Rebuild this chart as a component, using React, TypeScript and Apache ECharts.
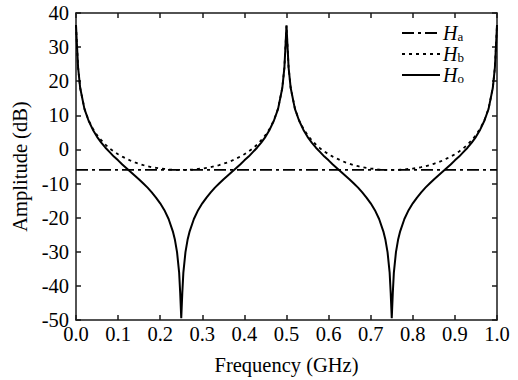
import React, { useEffect, useRef } from "react";
import * as echarts from "echarts";

const freq = [
  0, 0.0025, 0.005, 0.01, 0.02, 0.03, 0.04, 0.05, 0.06, 0.07, 0.08, 0.09, 0.1, 0.11, 0.12, 0.13, 0.14, 0.15, 0.16, 0.17, 0.18, 0.19, 0.2, 0.21, 0.22, 0.23,
  0.235, 0.24, 0.245, 0.2475, 0.25, 0.2525, 0.255, 0.26, 0.265,
  0.27, 0.28, 0.29, 0.3, 0.31, 0.32, 0.33, 0.34, 0.35, 0.36, 0.37, 0.38, 0.39, 0.4, 0.41, 0.42, 0.43, 0.44, 0.45, 0.46, 0.47, 0.48, 0.49, 0.495, 0.4975,
  0.5, 0.5025, 0.505, 0.51, 0.52, 0.53, 0.54, 0.55, 0.56, 0.57, 0.58, 0.59, 0.6, 0.61, 0.62, 0.63, 0.64, 0.65, 0.66, 0.67, 0.68, 0.69, 0.7, 0.71, 0.72, 0.73,
  0.735, 0.74, 0.745, 0.7475, 0.75, 0.7525, 0.755, 0.76, 0.765,
  0.77, 0.78, 0.79, 0.8, 0.81, 0.82, 0.83, 0.84, 0.85, 0.86, 0.87, 0.88, 0.89, 0.9, 0.91, 0.92, 0.93, 0.94, 0.95, 0.96, 0.97, 0.98, 0.99, 0.995, 0.9975,
  1.0,
];

const hoValues = [
  36.5, 30.1, 24.0, 18.0, 11.9, 8.4, 5.8, 3.7, 2.0, 0.5, -0.8, -2.1, -3.2, -4.4, -5.5, -6.6, -7.7, -8.8, -10.0, -11.2, -12.6, -14.1, -15.8, -17.8, -20.4, -24.0,
  -26.5, -30.1, -36.1, -42.1, -49.5, -42.1, -36.1, -30.1, -26.5,
  -24.0, -20.4, -17.8, -15.8, -14.1, -12.6, -11.2, -10.0, -8.8, -7.7, -6.6, -5.5, -4.4, -3.2, -2.1, -0.8, 0.5, 2.0, 3.7, 5.8, 8.4, 11.9, 18.0, 24.0, 30.1,
  36.3, 30.1, 24.0, 18.0, 11.9, 8.4, 5.8, 3.7, 2.0, 0.5, -0.8, -2.1, -3.2, -4.4, -5.5, -6.6, -7.7, -8.8, -10.0, -11.2, -12.6, -14.1, -15.8, -17.8, -20.4, -24.0,
  -26.5, -30.1, -36.1, -42.1, -49.5, -42.1, -36.1, -30.1, -26.5,
  -24.0, -20.4, -17.8, -15.8, -14.1, -12.6, -11.2, -10.0, -8.8, -7.7, -6.6, -5.5, -4.4, -3.2, -2.1, -0.8, 0.5, 2.0, 3.7, 5.8, 8.4, 11.9, 18.0, 24.0, 30.1,
  36.5,
];

const hbValues = [
  36.5, 30.1, 24.0, 18.0, 12.0, 8.5, 6.1, 4.2, 2.7, 1.4, 0.3, -0.6, -1.4, -2.1, -2.7, -3.3, -3.8, -4.2, -4.6, -4.9, -5.2, -5.4, -5.6, -5.7, -5.9, -5.95,
  -6.0, -6.0, -6.0, -6.0, -6.0, -6.0, -6.0, -6.0, -6.0,
  -5.95, -5.9, -5.7, -5.6, -5.4, -5.2, -4.9, -4.6, -4.2, -3.8, -3.3, -2.7, -2.1, -1.4, -0.6, 0.3, 1.4, 2.7, 4.2, 6.1, 8.5, 12.0, 18.0, 24.0, 30.1,
  36.3, 30.1, 24.0, 18.0, 12.0, 8.5, 6.1, 4.2, 2.7, 1.4, 0.3, -0.6, -1.4, -2.1, -2.7, -3.3, -3.8, -4.2, -4.6, -4.9, -5.2, -5.4, -5.6, -5.7, -5.9, -5.95,
  -6.0, -6.0, -6.0, -6.0, -6.0, -6.0, -6.0, -6.0, -6.0,
  -5.95, -5.9, -5.7, -5.6, -5.4, -5.2, -4.9, -4.6, -4.2, -3.8, -3.3, -2.7, -2.1, -1.4, -0.6, 0.3, 1.4, 2.7, 4.2, 6.1, 8.5, 12.0, 18.0, 24.0, 30.1,
  36.5,
];

const haFreq = [0, 1.0];
const haValues = [-6.0, -6.0];

const legendSubs = ["a", "b", "o"];

const FONT = "'Liberation Serif', 'Times New Roman', serif";
const DASH_HA = [12, 4, 3, 4];
const DASH_HB = [3, 4];

export default function App() {
  const ref = useRef<HTMLDivElement>(null);

  useEffect(() => {
    document.body.style.margin = "0";
    if (!ref.current) return;
    const chart = echarts.init(ref.current, null, { renderer: "svg" });

    const pair = (xs: number[], ys: number[]) => xs.map((x, i) => [x, ys[i]]);
    const axisLine = { show: true, onZero: false, lineStyle: { color: "#1a1a1a", width: 1.5 } };
    const axisTick = { show: true, inside: true, length: 5, lineStyle: { color: "#1a1a1a", width: 1.5 } };
    const labelStyle = { color: "#000", fontFamily: FONT, fontSize: 20.5 };

    const legendDashes = [DASH_HA, DASH_HB, null];
    const legendGraphics: any[] = [];
    legendSubs.forEach((sub, i) => {
      const y = 33 + i * 21;
      legendGraphics.push({
        type: "line",
        shape: { x1: 402, y1: y, x2: 440, y2: y },
        style: { stroke: "#000", lineWidth: i === 2 ? 2 : 1.8, lineDash: legendDashes[i] || undefined },
        silent: true,
      });
      legendGraphics.push({
        type: "text",
        x: 443,
        y: y,
        style: {
          text: `{i|H}{s|${sub}}`,
          verticalAlign: "middle",
          align: "left",
          rich: {
            i: { fontFamily: FONT, fontStyle: "italic", fontSize: 20, lineHeight: 20, fill: "#000" },
            s: { fontFamily: FONT, fontSize: 13, lineHeight: 10, verticalAlign: "bottom", fill: "#000" },
          },
        },
        silent: true,
      });
    });

    chart.setOption({
      animation: false,
      backgroundColor: "#fff",
      grid: { left: 76, right: 21, top: 13, bottom: 59 },
      graphic: legendGraphics,
      xAxis: [
        {
          type: "value",
          min: 0,
          max: 1,
          interval: 0.1,
          position: "bottom",
          name: "Frequency (GHz)",
          nameLocation: "middle",
          nameGap: 34,
          nameTextStyle: { ...labelStyle },
          axisLine,
          axisTick,
          splitLine: { show: false },
          axisLabel: { ...labelStyle, margin: 3, formatter: (v: number) => v.toFixed(1) },
        },
        {
          type: "value",
          min: 0,
          max: 1,
          interval: 0.1,
          position: "top",
          axisLine,
          axisTick,
          splitLine: { show: false },
          axisLabel: { show: false },
        },
      ],
      yAxis: [
        {
          type: "value",
          min: -50,
          max: 40,
          interval: 10,
          position: "left",
          name: "Amplitude (dB)",
          nameLocation: "middle",
          nameGap: 42,
          nameTextStyle: { ...labelStyle },
          axisLine,
          axisTick,
          splitLine: { show: false },
          axisLabel: { ...labelStyle, margin: 7 },
        },
        {
          type: "value",
          min: -50,
          max: 40,
          interval: 10,
          position: "right",
          axisLine,
          axisTick,
          splitLine: { show: false },
          axisLabel: { show: false },
        },
      ],
      series: [
        {
          name: "Ha",
          type: "line",
          symbol: "none",
          data: pair(haFreq, haValues),
          lineStyle: { color: "#000", width: 1.8, type: DASH_HA },
          z: 2,
        },
        {
          name: "Hb",
          type: "line",
          symbol: "none",
          data: pair(freq, hbValues),
          lineStyle: { color: "#000", width: 1.8, type: DASH_HB },
          z: 3,
        },
        {
          name: "Ho",
          type: "line",
          symbol: "none",
          data: pair(freq, hoValues),
          lineStyle: { color: "#000", width: 2 },
          z: 4,
        },
      ],
    });

    return () => chart.dispose();
  }, []);

  return <div ref={ref} style={{ width: 518, height: 380 }} />;
}
